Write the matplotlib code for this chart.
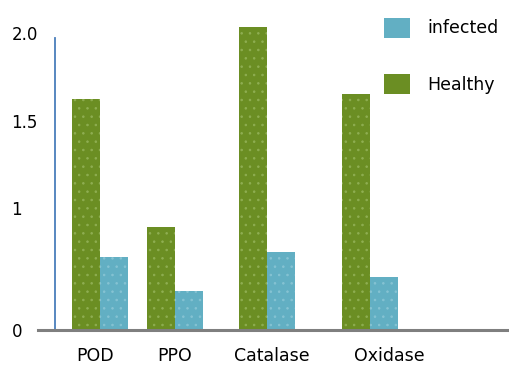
import numpy as np
import matplotlib.pyplot as plt
from matplotlib.patches import Patch

enzymes = ["POD", "PPO", "Catalase", "Oxidase"]
healthy = [1.625, 0.84, 2.03, 1.65]
infected = [0.60, 0.32, 0.64, 0.43]
ytick_vals = [0, 1, 1.5, 2.0]
ytick_text = ["0", "1", "1.5", "2.0"]

green = "#6b8e23"
blue = "#62afc3"

# uneven axis: 0-1 stretched compared to 1-2
_knots = np.array([0, 1, 1.5, 2.0, 2.5])
_pix = np.array([0, 122, 209, 297, 385])
def fwd(v):
    return np.interp(v, _knots, _pix)
def inv(p):
    return np.interp(p, _pix, _knots)

plt.rcParams["hatch.linewidth"] = 0.6

fig = plt.figure(figsize=(5.1, 3.65), dpi=100)
ax = fig.add_axes([38 / 510, 35 / 365, 472 / 510, 315 / 365])
ax.set_yscale("function", functions=(fwd, inv))

xpos = np.array([0, 0.833, 1.856, 3.0])
w = 0.31
ax.bar(xpos - w / 2, healthy, w, color=green, edgecolor="#8fae52",
       linewidth=0, hatch="..")
ax.bar(xpos + w / 2, infected, w, color=blue, edgecolor="#86c3d3",
       linewidth=0, hatch="..")

ax.set_xlim(-0.689, 4.556)
ax.set_ylim(0, 2.1)

# vertical axis line sits a bit right of the plot edge
ax.plot([-0.5, -0.5], [0, 1.97], color="#4a7ebb", lw=1.3, clip_on=False)

for s in ["left", "right", "top"]:
    ax.spines[s].set_visible(False)
ax.spines["bottom"].set_color("#7f7f7f")
ax.spines["bottom"].set_linewidth(2.2)

ax.set_yticks(ytick_vals)
ax.set_yticklabels(ytick_text)
ax.tick_params(axis="y", length=0, pad=19, labelsize=12)
for lbl in ax.get_yticklabels():
    lbl.set_horizontalalignment("left")

ax.set_xticks(xpos + np.array([-0.05, 0.0, 0.05, 0.22]))
ax.set_xticklabels(enzymes)
ax.tick_params(axis="x", length=0, pad=12, labelsize=12.5)

handles = [Patch(facecolor=blue, label="infected"),
           Patch(facecolor=green, label="Healthy")]
fig.legend(handles=handles, loc="upper left", bbox_to_anchor=(368 / 510, 1 - 2 / 365),
           frameon=False, fontsize=12.5, handlelength=1.5, handleheight=1.4,
           labelspacing=2.1, handletextpad=1.0)

fig.savefig("out.png", dpi=100)
